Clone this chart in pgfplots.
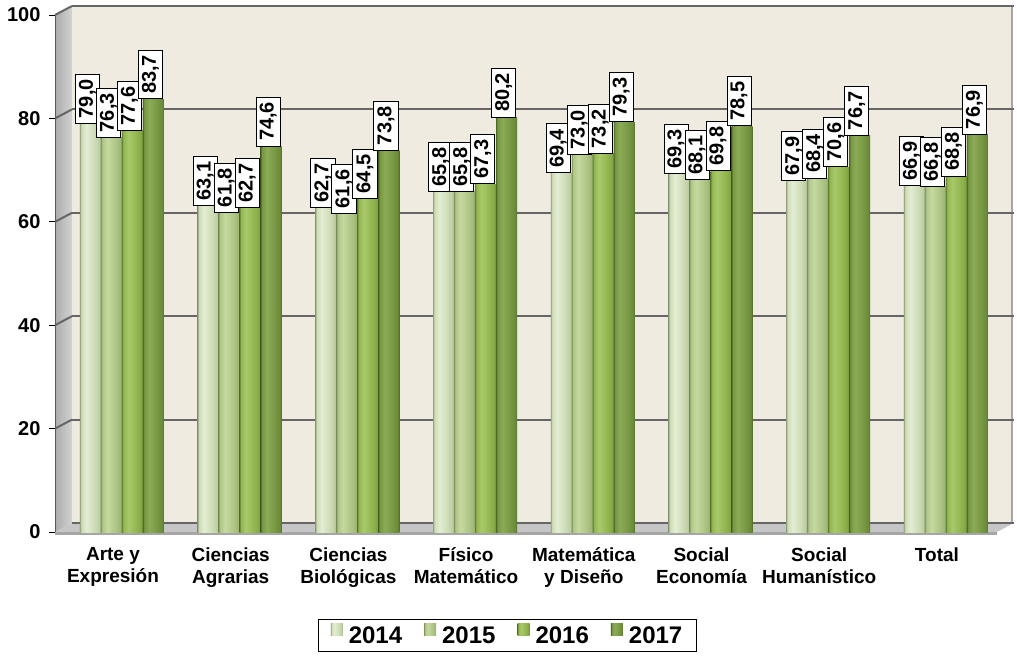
\documentclass[border=0pt]{standalone}
\usepackage{fontspec}
\setmainfont{Liberation Sans}
\usepackage{pgfplots}
\usepackage{pgfplotstable}
\pgfplotsset{compat=1.18}

\definecolor{wall}{HTML}{EFEBE0}
\definecolor{gridc}{HTML}{666666}
% cylinder colours: edge / body / highlight / shadow side
\definecolor{aE}{HTML}{98A684}\definecolor{aL}{HTML}{CDDCB4}\definecolor{aM}{HTML}{E3EDD4}\definecolor{aR}{HTML}{BECDA2}
\definecolor{bE}{HTML}{869A63}\definecolor{bL}{HTML}{AFC686}\definecolor{bM}{HTML}{C5D9A0}\definecolor{bR}{HTML}{A0B877}
\definecolor{cE}{HTML}{678534}\definecolor{cL}{HTML}{92B64F}\definecolor{cM}{HTML}{A9C96B}\definecolor{cR}{HTML}{84A745}
\definecolor{dE}{HTML}{516A28}\definecolor{dL}{HTML}{779742}\definecolor{dM}{HTML}{8BAB56}\definecolor{dR}{HTML}{698A38}

\pgfdeclarehorizontalshading{cylA}{100bp}{color(0bp)=(aE); color(25bp)=(aE); color(28bp)=(aL); color(40bp)=(aM); color(60bp)=(aL); color(71bp)=(aR); color(75bp)=(aE); color(100bp)=(aE)}
\pgfdeclarehorizontalshading{cylB}{100bp}{color(0bp)=(bE); color(25bp)=(bE); color(28bp)=(bL); color(40bp)=(bM); color(60bp)=(bL); color(71bp)=(bR); color(75bp)=(bE); color(100bp)=(bE)}
\pgfdeclarehorizontalshading{cylC}{100bp}{color(0bp)=(cE); color(25bp)=(cE); color(28bp)=(cL); color(40bp)=(cM); color(60bp)=(cL); color(71bp)=(cR); color(75bp)=(cE); color(100bp)=(cE)}
\pgfdeclarehorizontalshading{cylD}{100bp}{color(0bp)=(dE); color(25bp)=(dE); color(28bp)=(dL); color(40bp)=(dM); color(60bp)=(dL); color(71bp)=(dR); color(75bp)=(dE); color(100bp)=(dE)}

\pgfplotsset{
  cyl/.style={shade, shading=#1, shading angle=0, draw=none,
    legend image code/.code={\path[shade, shading=#1, shading angle=0] (0pt,1pt) rectangle (12pt,13pt);}},
}

\pgfplotstableread{
x a b c d
0 79.0 76.3 77.6 83.7
1 63.1 61.8 62.7 74.6
2 62.7 61.6 64.5 73.8
3 65.8 65.8 67.3 80.2
4 69.4 73.0 73.2 79.3
5 69.3 68.1 69.8 78.5
6 67.9 68.4 70.6 76.7
7 66.9 66.8 68.8 76.9
}\data

\begin{document}
\begin{tikzpicture}[x=1pt,y=1pt]
\useasboundingbox (-55,-125) rectangle (962,532);
% 3D walls
\shade[left color=gray!65, right color=gray!35] (0,0) -- (17,9) -- (17,526) -- (0,517) -- cycle;
\fill[wall] (17,9) rectangle (957,526);
\draw[gray!70, line width=1.2pt] (957,9) -- (957,526);
\fill[gray!45] (0,0) -- (17,9) -- (959,9) -- (942,0) -- cycle;
\fill[gray!70] (0,-3) rectangle (942,0);
\draw[gray!70!black, line width=1pt] (0,0) -- (0,517);
\foreach \v in {20,40,60,80,100} \draw[gridc, line width=2pt] (0,\v*5.17) -- (17,9+\v*5.17);

\begin{axis}[
  at={(0,0)}, anchor=south west,
  scale only axis, width=942pt, height=517pt,
  ybar=0pt, bar width=21pt,
  xmin=-0.569, xmax=7.434,
  ymin=0, ymax=100,
  ytick={0,20,40,60,80,100},
  xtick={0,...,7},
  xticklabels={Arte y\\Expresión, Ciencias\\Agrarias, Ciencias\\Biológicas, Físico\\Matemático,
    Matemática\\y Diseño, Social\\Economía, Social\\Humanístico, Total},
  axis line style={draw=none},
  tick pos=left,
  tick align=outside,
  major tick length=6pt,
  ytick style={draw=black, line width=1pt},
  xtick style={draw=none},
  ymajorgrids,
  major grid style={draw=gridc, line width=2pt, xshift=17pt, yshift=9pt},
  /pgf/number format/assume math mode=true,
  yticklabel style={font=\fontsize{20}{20}\selectfont\bfseries, xshift=-5pt},
  xticklabel style={font=\fontsize{19}{22}\selectfont\bfseries, align=center, xshift=-9pt, yshift=-6pt},
  nodes near coords={\pgfmathprintnumber[fixed,fixed zerofill,precision=1,use comma]{\pgfplotspointmeta}},
  every node near coord/.append style={rotate=90, anchor=west, fill=white, draw=black, text=black,
    line width=0.8pt, font=\fontsize{20}{20}\selectfont\bfseries, inner xsep=5pt, inner ysep=3.5pt, yshift=3pt},
  legend columns=4,
  legend style={at={(0.4804,-0.168)}, anchor=north, draw=black, line width=1pt,
    font=\fontsize{24}{24}\selectfont\bfseries, inner xsep=12pt, inner ysep=4pt,
    /tikz/every odd column/.append style={column sep=4pt},
    /tikz/every even column/.append style={column sep=20pt}},
]
% one plot per bar, so that every cylinder gets its own shading
\pgfplotsinvokeforeach{0,...,7}{
  \addplot[cyl=cylA, bar shift=-31.5pt, forget plot, restrict x to domain=#1:#1] table[x=x, y=a] {\data};
  \addplot[cyl=cylB, bar shift=-10.5pt, forget plot, restrict x to domain=#1:#1] table[x=x, y=b] {\data};
  \addplot[cyl=cylC, bar shift=10.5pt, forget plot, restrict x to domain=#1:#1] table[x=x, y=c] {\data};
  \addplot[cyl=cylD, bar shift=31.5pt, forget plot, restrict x to domain=#1:#1] table[x=x, y=d] {\data};
}
\addlegendimage{cyl=cylA}\addlegendentry{2014}
\addlegendimage{cyl=cylB}\addlegendentry{2015}
\addlegendimage{cyl=cylC}\addlegendentry{2016}
\addlegendimage{cyl=cylD}\addlegendentry{2017}
\end{axis}
\end{tikzpicture}
\end{document}
